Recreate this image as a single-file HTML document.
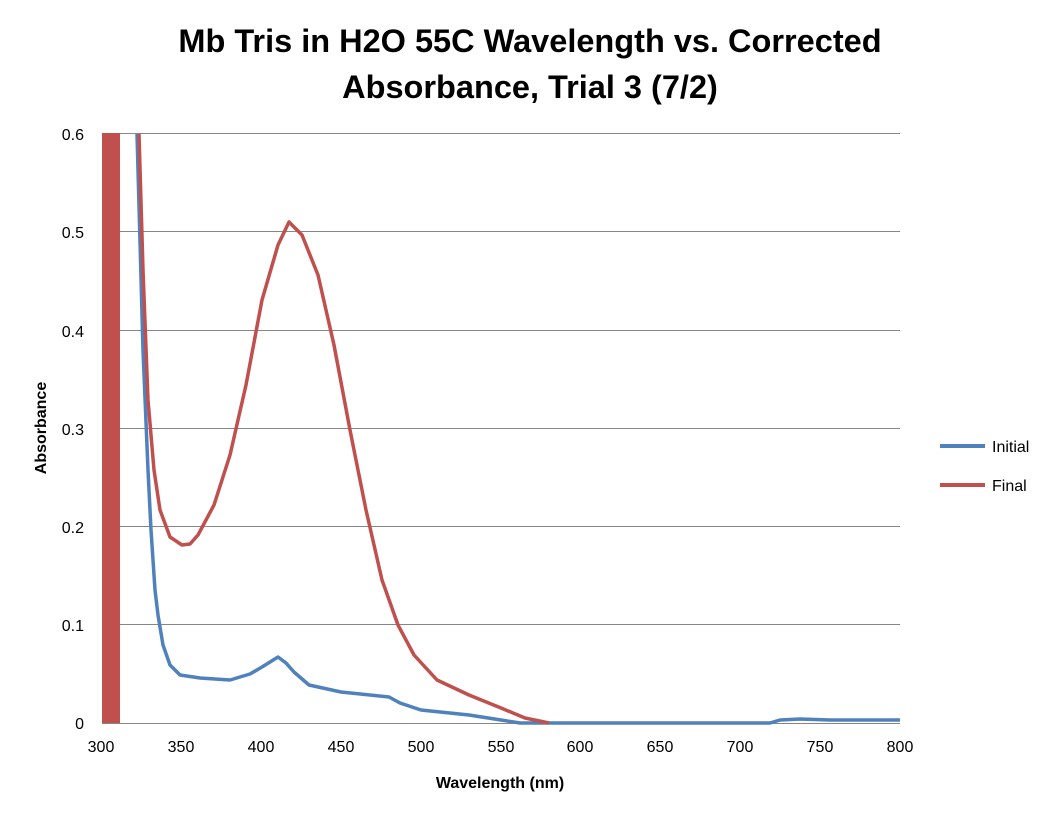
<!DOCTYPE html>
<html><head><meta charset="utf-8"><style>
body{margin:0;background:#fff;}
svg{display:block;font-family:"Liberation Sans",sans-serif;}
</style></head><body>
<svg width="1060" height="821" viewBox="0 0 1060 821">
<rect width="1060" height="821" fill="#fff"/>
<text x="530" y="52" text-anchor="middle" font-size="32.5" font-weight="bold" fill="#000">Mb Tris in H2O 55C Wavelength vs. Corrected</text>
<text x="530" y="98" text-anchor="middle" font-size="32.5" font-weight="bold" fill="#000">Absorbance, Trial 3 (7/2)</text>
<g stroke="#868686" stroke-width="1">
<line x1="102" y1="133.5" x2="900" y2="133.5"/>
<line x1="102" y1="231.5" x2="900" y2="231.5"/>
<line x1="102" y1="330.5" x2="900" y2="330.5"/>
<line x1="102" y1="428.5" x2="900" y2="428.5"/>
<line x1="102" y1="526.5" x2="900" y2="526.5"/>
<line x1="102" y1="624.5" x2="900" y2="624.5"/>
<line x1="102" y1="723.5" x2="900" y2="723.5"/>
</g>
<g font-size="16" fill="#000" text-anchor="end">
<text x="84" y="140">0.6</text><text x="84" y="238">0.5</text><text x="84" y="337">0.4</text>
<text x="84" y="435">0.3</text><text x="84" y="533">0.2</text><text x="84" y="631">0.1</text><text x="84" y="729">0</text>
</g>
<g font-size="16" fill="#000" text-anchor="middle">
<text x="101" y="752">300</text><text x="181" y="752">350</text><text x="261" y="752">400</text>
<text x="341" y="752">450</text><text x="421" y="752">500</text><text x="501" y="752">550</text>
<text x="580" y="752">600</text><text x="660" y="752">650</text><text x="740" y="752">700</text>
<text x="820" y="752">750</text><text x="900" y="752">800</text>
</g>
<text x="500" y="788" text-anchor="middle" font-size="16" font-weight="bold">Wavelength (nm)</text>
<text transform="translate(46,428) rotate(-90)" text-anchor="middle" font-size="16" font-weight="bold">Absorbance</text>
<rect x="102" y="133" width="18" height="590" fill="#c0504d"/>
<path d="M137,134 L143,350 L148,470 L151,530 L155,590 L158,615 L163,645 L170,665 L180,675 L200,678 L230,680 L250,674 L262,667 L278,657 L286,663 L294,672 L309,685 L341,692 L389,697 L400,703 L421,710 L469,715 L501,720 L520,723 L770,723 L780,720 L800,719 L830,720 L860,720 L900,720" fill="none" stroke="#4f81bd" stroke-width="3.5" stroke-linejoin="round"/>
<path d="M139,134 L143,270 L148,400 L154,470 L160,510 L170,537 L182,545 L190,544 L198,535 L214,505 L230,455 L246,385 L262,300 L278,245 L289,222 L302,235 L318,275 L334,345 L350,430 L366,510 L382,580 L398,625 L414,655 L437,680 L469,695 L501,708 L525,718 L549,723" fill="none" stroke="#c0504d" stroke-width="3.5" stroke-linejoin="round"/>
<line x1="940" y1="446" x2="985" y2="446" stroke="#4f81bd" stroke-width="4"/>
<text x="992" y="452" font-size="16">Initial</text>
<line x1="940" y1="485" x2="985" y2="485" stroke="#c0504d" stroke-width="4"/>
<text x="992" y="491" font-size="16">Final</text>
</svg>
</body></html>
